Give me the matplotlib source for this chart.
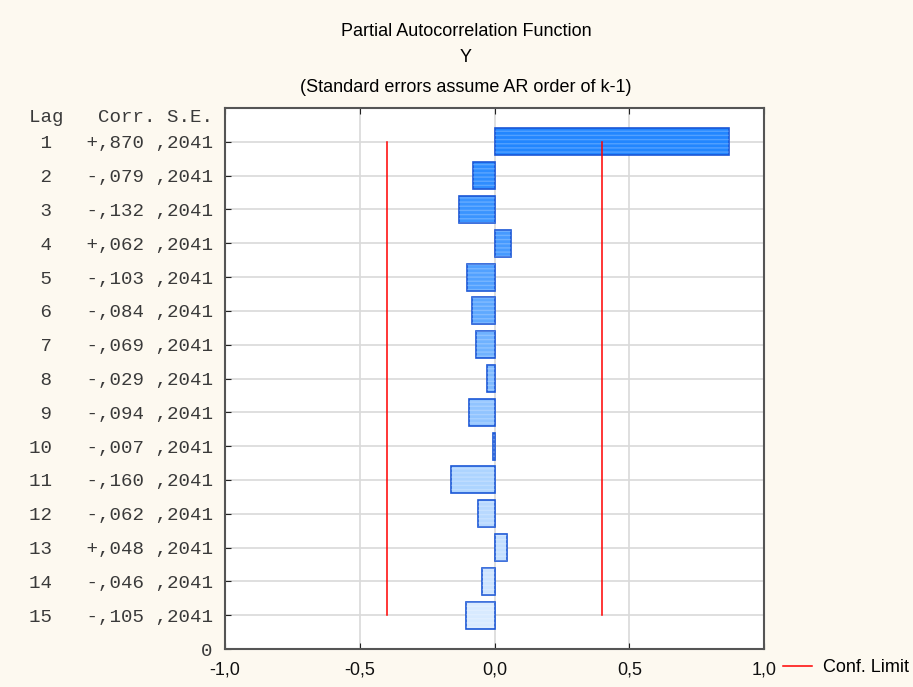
import numpy as np
import matplotlib
matplotlib.use("Agg")
import matplotlib.pyplot as plt
from matplotlib.colors import LinearSegmentedColormap

# PACF values
lags = np.arange(1, 16)
corr = [0.870, -0.079, -0.132, 0.062, -0.103, -0.084, -0.069, -0.029,
        -0.094, -0.007, -0.160, -0.062, 0.048, -0.046, -0.105]
corr_text = ["+,870", "-,079", "-,132", "+,062", "-,103", "-,084", "-,069", "-,029",
             "-,094", "-,007", "-,160", "-,062", "+,048", "-,046", "-,105"]
se = [0.2041] * 15
se_text = [",2041"] * 15
x_ticks = [-1.0, -0.5, 0.0, 0.5, 1.0]
x_tick_labels = ["-1,0", "-0,5", "0,0", "0,5", "1,0"]

bg = "#FDF9F0"
plt.rcParams["font.family"] = ["Liberation Sans", "DejaVu Sans"]
plt.rcParams["hatch.linewidth"] = 1.0

fig = plt.figure(figsize=(9.13, 6.87), dpi=100, facecolor=bg)
ax = fig.add_axes([225 / 913, 1 - 649 / 687, (764 - 225) / 913, (649 - 108) / 687])
ax.set_facecolor("white")

# blue gradient, dark at lag 1 to pale at lag 15
cmap = LinearSegmentedColormap.from_list("pacf", ["#2286FF", "#5AA6FF", "#A6D0FF", "#D8EAFF"])
colors = [cmap(i / (len(lags) - 1)) for i in range(len(lags))]

ax.barh(lags, corr, height=0.8, color=colors, edgecolor="#1A56D6", linewidth=1.2, zorder=3)
# faint horizontal banding inside the bars
ax.barh(lags, corr, height=0.8, facecolor="none", edgecolor=(1, 1, 1, 0.22),
        hatch="----", linewidth=0, zorder=3.5)

# confidence limits
limit = 1.96 * np.array(se)
ax.plot(limit, lags, color="red", lw=1.1, zorder=4, label="Conf. Limit")
ax.plot(-limit, lags, color="red", lw=1.1, zorder=4)

ax.set_xlim(-1, 1)
ax.set_ylim(16, 0)
ax.set_xticks(x_ticks)
ax.set_xticklabels(x_tick_labels, fontsize=13, color="#111111")
ax.set_yticks(list(lags) + [16])
ylabels = [f"{l:>2}   {c} {s}" for l, c, s in zip(lags, corr_text, se_text)] + ["0"]
ax.set_yticklabels(ylabels, fontfamily="Liberation Mono", fontsize=13.8, color="#3a3a3a")

ax.grid(True, color="#D9D9D9", lw=1.2, zorder=0)
ax.set_axisbelow(True)
for sp in ax.spines.values():
    sp.set_color("#555555")
    sp.set_linewidth(1.5)
ax.tick_params(axis="x", direction="in", length=4, top=True, pad=9, color="#222222")
ax.tick_params(axis="y", direction="in", length=4, pad=9, color="#222222")

# column header above the lag table
ax.annotate("Lag   Corr. S.E.", xy=(0, 0.28), xycoords=("axes fraction", "data"),
            xytext=(-9, 0), textcoords="offset points", ha="right", va="center",
            fontfamily="Liberation Mono", fontsize=13.8, color="#3a3a3a", annotation_clip=False)

fig.text(466 / 913, 1 - 31 / 687, "Partial Autocorrelation Function", ha="center", va="center", fontsize=13)
fig.text(466 / 913, 1 - 58 / 687, "Y", ha="center", va="center", fontsize=13)
fig.text(466 / 913, 1 - 87 / 687, "(Standard errors assume AR order of k-1)", ha="center", va="center", fontsize=13)

ax.legend(loc="center left", bbox_to_anchor=(1.035, -0.035), frameon=False, fontsize=13,
          handlelength=1.6, handletextpad=0.6, borderpad=0, borderaxespad=0)

fig.savefig("out.png", dpi=100, facecolor=bg)
